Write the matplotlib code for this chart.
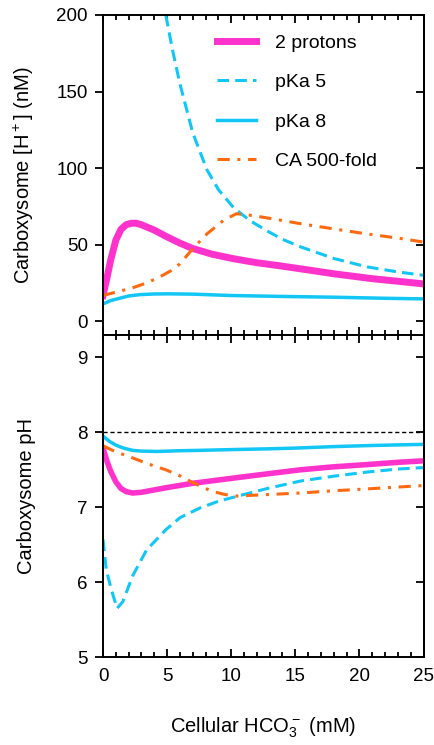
import matplotlib
matplotlib.use("Agg")
import matplotlib.pyplot as plt
from matplotlib.ticker import MultipleLocator

# données lues sur la figure
# panneau du haut : [H+] (nM)
x_2p_h = [0, 0.3, 0.6, 1, 1.4, 1.8, 2.2, 2.6, 3, 4, 4.9, 6, 7, 8.5, 10.2, 12, 13.8, 16, 18, 21, 25]
y_2p_h = [16.8, 28, 40, 53, 60, 63, 64, 64, 63, 59.5, 55.5, 51, 47.5, 43.8, 40.8, 38.2, 36.2, 33.5, 31, 27.8, 24.4]

x_pk5_h = [4.9, 5.4, 6, 7, 8.1, 9, 10.2, 11.5, 12.8, 14, 15.4, 18, 20.6, 23, 25]
y_pk5_h = [200, 178, 155, 123, 99, 86, 74, 65.5, 59, 53.5, 48.6, 41, 35.5, 32.2, 30]

x_pk8_h = [0, 0.6, 1.3, 2, 2.9, 4, 5, 7, 10, 14, 18, 22, 25]
y_pk8_h = [11.3, 13.5, 15, 16.5, 17.4, 17.8, 17.9, 17.7, 16.8, 16.2, 15.7, 15, 14.6]

x_ca_h = [0, 1, 2.3, 3.4, 4.4, 5.3, 6, 7, 8.1, 9.4, 10.4, 11.7, 13.5, 15.4, 18, 20.6, 23, 25]
y_ca_h = [16.8, 19, 21.8, 25, 28.8, 33, 37.5, 47.3, 57, 65.9, 70.2, 69, 66.5, 63.7, 60.3, 57, 54.3, 51.7]

# panneau du bas : pH
x_2p_ph = [0, 0.3, 0.6, 1, 1.4, 1.8, 2.3, 3, 4.9, 7, 10.2, 13, 15.4, 18, 20.6, 23, 25]
y_2p_ph = [7.79, 7.62, 7.48, 7.34, 7.25, 7.21, 7.19, 7.2, 7.26, 7.32, 7.39, 7.45, 7.50, 7.54, 7.57, 7.6, 7.62]

x_pk5_ph = [0, 0.25, 0.65, 1.1, 1.55, 2.3, 3.4, 4.9, 6, 7.55, 9, 10.2, 12.8, 15.4, 18, 20.6, 23, 25]
y_pk5_ph = [6.57, 6.17, 5.9, 5.65, 5.74, 6.08, 6.43, 6.70, 6.86, 6.99, 7.08, 7.135, 7.25, 7.35, 7.415, 7.47, 7.51, 7.53]

x_pk8_ph = [0, 0.5, 1, 1.6, 2.3, 3, 4.2, 6, 7.6, 10, 12.8, 15, 18, 21, 25]
y_pk8_ph = [7.95, 7.88, 7.83, 7.79, 7.76, 7.75, 7.745, 7.755, 7.76, 7.77, 7.78, 7.79, 7.81, 7.825, 7.84]

x_ca_ph = [0, 1, 2.3, 3.5, 4.9, 6, 7, 8, 8.6, 9.5, 10.4, 11.7, 13.5, 15.4, 18, 20.6, 23, 25]
y_ca_ph = [7.82, 7.74, 7.66, 7.58, 7.50, 7.42, 7.33, 7.25, 7.21, 7.17, 7.15, 7.16, 7.175, 7.19, 7.22, 7.245, 7.27, 7.29]

ph_ref = 8

magenta = '#FF33CC'
bleu = '#12C6F5'
orange = '#FF6A10'

plt.rcParams['font.family'] = ['Liberation Sans', 'DejaVu Sans']
plt.rcParams['mathtext.fontset'] = 'custom'
plt.rcParams['mathtext.rm'] = 'Liberation Sans'
plt.rcParams['font.size'] = 13.5

fig = plt.figure(figsize=(4.35, 7.45), dpi=100)
ax1 = fig.add_axes([0.2368, 0.5503, 0.7368, 0.4296])
ax2 = fig.add_axes([0.2368, 0.1181, 0.7368, 0.4322])

tirets = (0, (3.8, 2.0))
tiret_point = (0, (4, 2.5, 1, 2.5))

ax1.plot(x_2p_h, y_2p_h, color=magenta, lw=5, label="2 protons")
ax1.plot(x_pk5_h, y_pk5_h, color=bleu, lw=2.2, ls=tirets, label="pKa 5")
ax1.plot(x_pk8_h, y_pk8_h, color=bleu, lw=2.5, label="pKa 8")
ax1.plot(x_ca_h, y_ca_h, color=orange, lw=2.2, ls=tiret_point, label="CA 500-fold")

ax2.axhline(ph_ref, color='black', lw=1, ls=(0, (3, 2)))
ax2.plot(x_2p_ph, y_2p_ph, color=magenta, lw=4)
ax2.plot(x_pk5_ph, y_pk5_ph, color=bleu, lw=2.2, ls=tirets)
ax2.plot(x_pk8_ph, y_pk8_ph, color=bleu, lw=2.5)
ax2.plot(x_ca_ph, y_ca_ph, color=orange, lw=2.2, ls=tiret_point)

ax1.set_ylim(-9, 200)
ax2.set_ylim(5, 9.3)
for ax in (ax1, ax2):
    ax.set_xlim(0, 25)
    ax.xaxis.set_major_locator(MultipleLocator(5))
    ax.xaxis.set_minor_locator(MultipleLocator(1))
    ax.tick_params(axis='x', which='both', direction='in', top=True, bottom=True, width=1.3, pad=8)
    ax.tick_params(axis='x', which='major', length=6)
    ax.tick_params(axis='x', which='minor', length=3.5)
    ax.tick_params(axis='y', which='major', direction='out', left=True, right=False,
                   length=6, width=1.3, pad=5)
    for s in ax.spines.values():
        s.set_linewidth(1.4)
    # ticks à droite vers l'intérieur
    axr = ax.secondary_yaxis('right')
    axr.tick_params(direction='in', length=6, width=1.3, labelright=False)
    axr.spines['right'].set_linewidth(1.4)

ax1.yaxis.set_major_locator(MultipleLocator(50))
ax2.yaxis.set_major_locator(MultipleLocator(1))
ax1.set_xticklabels([])

ax1.set_ylabel("Carboxysome [H$^+$] (nM)", fontsize=14.5)
ax2.set_ylabel("Carboxysome pH", fontsize=14.5)
ax2.set_xlabel("Cellular HCO$_3^-$ (mM)", fontsize=14.5, labelpad=22)
ax1.yaxis.set_label_coords(-0.21, 0.5)
ax2.yaxis.set_label_coords(-0.21, 0.5)

ax1.legend(loc='upper left', bbox_to_anchor=(0.355, 0.94), frameon=False,
           handlelength=2.0, labelspacing=1.12, handletextpad=1.0,
           borderaxespad=0, borderpad=0, fontsize=14)

plt.savefig("out.png", dpi=100)
